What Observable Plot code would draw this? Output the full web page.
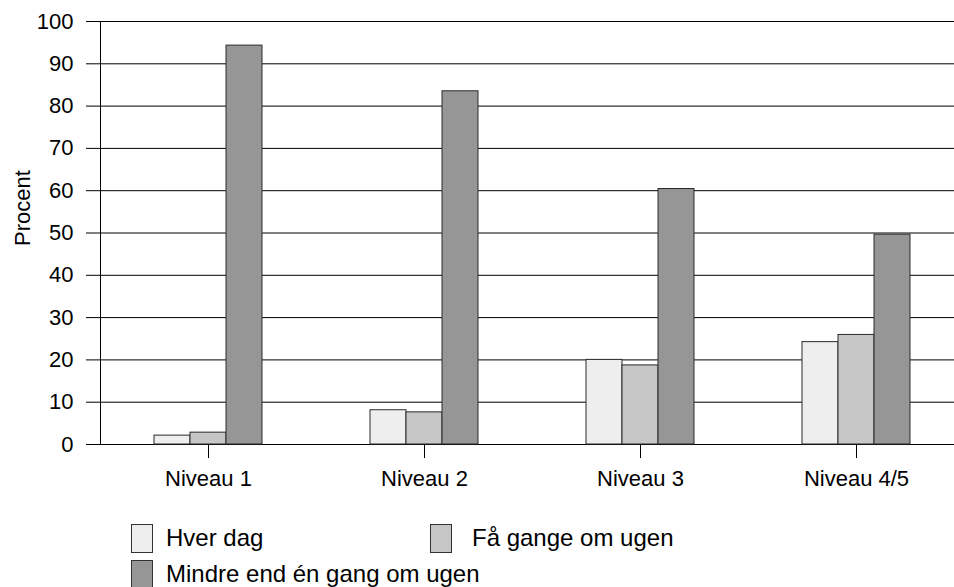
<!DOCTYPE html>
<html>
<head>
<meta charset="utf-8">
<script src="https://cdn.jsdelivr.net/npm/d3@7"></script>
<script src="https://cdn.jsdelivr.net/npm/@observablehq/plot@0.6"></script>
<style>
  html, body { margin: 0; padding: 0; background: #fff; overflow: hidden; }
  #wrap { position: relative; width: 954px; height: 587px; font-family: "Liberation Sans", Arial, sans-serif; color: #000; }
  .sw { position: absolute; width: 22px; height: 29px; border: 1px solid #333; box-sizing: border-box; }
  .lt { position: absolute; font-size: 24px; line-height: 26px; white-space: nowrap; }
</style>
</head>
<body>
<div id="wrap"></div>
<script>
const categories = ["Niveau 1", "Niveau 2", "Niveau 3", "Niveau 4/5"];
const series = ["Hver dag", "Få gange om ugen", "Mindre end én gang om ugen"];
const hverDag   = [2.1, 8.1, 20.0, 24.2];
const faaGange  = [2.8, 7.6, 18.7, 25.9];
const mindreEnd = [94.3, 83.5, 60.4, 49.6];
const yTicks = [0, 10, 20, 30, 40, 50, 60, 70, 80, 90, 100];
const colors = ["#eeeeee", "#c6c6c6", "#969696"];
const yLabel = "Procent";

const valuesBySeries = [hverDag, faaGange, mindreEnd];
const data = [];
categories.forEach((c, i) => {
  series.forEach((s, j) => data.push({category: c, series: s, value: valuesBySeries[j][i]}));
});

const chart = Plot.plot({
  width: 954,
  height: 505,
  marginLeft: 100,
  marginRight: -10,
  marginTop: 21,
  marginBottom: 61,
  style: {fontFamily: '"Liberation Sans", Arial, sans-serif', fontSize: "22px", color: "#000", background: "white", overflow: "hidden"},
  fx: {domain: categories, padding: 0, label: null, axis: null},
  x: {domain: series, paddingInner: 0, paddingOuter: 1.42, axis: null},
  y: {domain: [0, 100], axis: null},
  color: {domain: series, range: colors},
  marks: [
    Plot.gridY(yTicks, {stroke: "#000", strokeOpacity: 1, strokeWidth: 1}),
    Plot.axisY(yTicks, {tickSize: 14, tickPadding: 13, label: null, fontSize: 22, stroke: "#000"}),
    Plot.axisFx({anchor: "bottom", tickSize: 14, tickPadding: 12, label: null, fontSize: 22, stroke: "#000"}),
    Plot.barY(data, {fx: "category", x: "series", y: "value", fill: "series", stroke: "#2a2a2a", strokeWidth: 1}),
    Plot.frame({anchor: "left", facetAnchor: "left", stroke: "#000"}),
    Plot.text([yLabel], {fx: () => categories[0], frameAnchor: "left", rotate: -90, dx: -78, dy: 13, fontSize: 22, fill: "#000"})
  ]
});

const wrap = document.getElementById("wrap");
wrap.appendChild(chart);

// legend (HTML, below the SVG)
const legendPos = [
  {sx: 131, sy: 524, tx: 166, ty: 525},
  {sx: 430, sy: 524, tx: 472, ty: 525},
  {sx: 131, sy: 560, tx: 166, ty: 561}
];
series.forEach((s, i) => {
  const p = legendPos[i];
  const sw = document.createElement("div");
  sw.className = "sw";
  sw.style.left = p.sx + "px";
  sw.style.top = p.sy + "px";
  sw.style.background = colors[i];
  wrap.appendChild(sw);
  const t = document.createElement("div");
  t.className = "lt";
  t.style.left = p.tx + "px";
  t.style.top = p.ty + "px";
  t.textContent = s;
  wrap.appendChild(t);
});
</script>
</body>
</html>
